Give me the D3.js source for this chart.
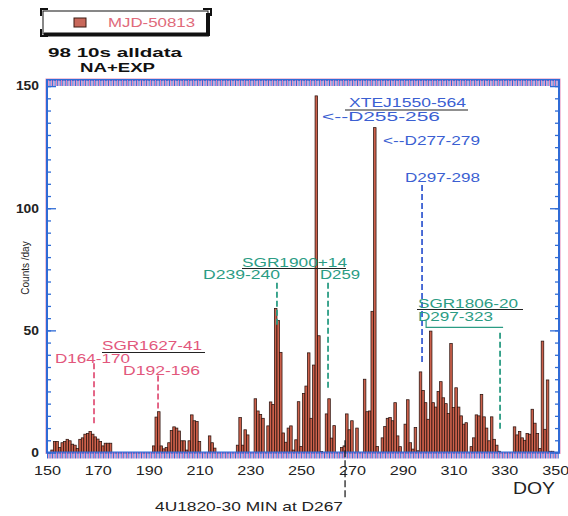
<!DOCTYPE html>
<html>
<head>
<meta charset="utf-8">
<script src="https://cdn.jsdelivr.net/npm/d3@7"></script>
<style>
  body { margin: 0; background: #fff; }
  text { font-family: 'Liberation Sans', Arial, Helvetica, sans-serif; }
</style>
</head>
<body>
<div id="graf"></div>
<script>
// datos: conteos por dia (DOY), solo los dias con barra
const days = [
  152,153,154,155,156,157,158,159,160,161,162,163,164,165,166,167,168,169,170,171,172,173,174,175,
  192,193,194,195,196,197,198,199,200,201,202,203,204,205,206,207,208,209,210,214,215,216,
  225,226,227,228,229,232,233,234,235,237,
  238,239,240,241,242,243,244,245,246,247,
  248,249,250,251,252,253,254,255,256,257,
  258,260,261,262,263,266,267,268,269,270,
  272,275,276,277,278,279,280,282,283,284,
  285,286,287,288,289,291,292,293,294,295,
  296,297,298,299,300,301,302,303,304,305,
  306,307,308,309,310,311,312,313,314,315,
  317,318,319,320,321,322,323,324,325,326,
  327,328,
  334,335,336,337,338,339,340,341,342,343,344,345,346,347,348,349
]
const counts = [
  1,4.5,4.5,2,4,4.5,5.4,4.8,3.4,3,1.6,5.4,6,7.5,7.8,8.6,7.5,6.4,5.5,4.5,2.7,3.8,3.8,3.8,
  2.7,14.5,16.7,2.7,1.5,2,4,9,10.5,10,8.8,4.8,4.8,1,4.8,15.4,13,12.7,4.5,6.8,4,1.8,
  3,14.3,3,9.3,7.2,22,17,15.6,14,10.9,
  20.7,19.7,59,54,41,8,4.2,10,10.9,1,
  5.2,20.8,2.5,24.2,27.2,40.8,14,35.8,146,47.8,
  0.4,15.8,22,5.9,11,2,2.7,15.8,9.3,13,
  10,30,16.7,17,57.8,133,2.5,6,10.6,14,
  14.3,13,20.4,6.8,2.4,11.6,21.6,4,1.4,10.2,
  0.7,33,25.4,20.4,13.6,49.7,20.4,18.6,25,29,
  22.4,20,16,44.6,18.4,26.5,18.6,15,11.6,12.2,
  2.4,6,15.4,15,23.8,14.6,10,4.8,14.6,5.4,
  3,0.5,
  10.5,7.2,8.6,6,5,7.8,7.5,17.7,12,7.8,1.6,45.6,9.5,29.7,0.5,0.5
]
const xTicks = [150,170,190,210,230,250,270,290,310,330,350]
const yTicks = [0,50,100,150]

const ancho_total = 568, alto_total = 516
const blue = '#2f6bd6', pink = '#e2577c', teal = '#2b9c84', azul = '#3b5fd2'

const svg = d3.select('#graf').append('svg')
  .attr('width', ancho_total).attr('height', alto_total)
  .style('background', '#fff')

// escaladores
const x = d3.scaleLinear().domain([150, 351.5]).range([47, 559])
const y = d3.scaleLinear().domain([0, 152.5]).range([452.5, 80])

const datos = days.map((d, i) => ({day: d, n: counts[i]}))

// barras
svg.append('g').selectAll('rect')
  .data(datos)
  .enter().append('rect')
    .attr('x', d => x(d.day - 0.5))
    .attr('width', d => x(d.day + 0.5) - x(d.day - 0.5))
    .attr('y', d => y(d.n))
    .attr('height', d => y(0) - y(d.n))
    .attr('fill', '#cc604b')
    .attr('stroke', '#2a130e')
    .attr('stroke-width', 0.75)

// marco
svg.append('rect')
  .attr('x', x.range()[0] - 1).attr('y', y.range()[1] - 1)
  .attr('width', x.range()[1] - x.range()[0] + 2).attr('height', y.range()[0] - y.range()[1] + 2)
  .attr('fill', 'none').attr('stroke', '#e58ab8').attr('stroke-width', 1)
svg.append('rect')
  .attr('x', x.range()[0]).attr('y', y.range()[1])
  .attr('width', x.range()[1] - x.range()[0]).attr('height', y.range()[0] - y.range()[1])
  .attr('fill', 'none').attr('stroke', blue).attr('stroke-width', 2)

function estilo(sel, color, w) {
  sel.select('.domain').remove()
  sel.selectAll('line').attr('stroke', color).attr('stroke-width', w)
}

// ticks diarios arriba (hacia adentro) y abajo (hacia afuera)
const diarios = d3.range(150, 352)
const medios = d3.range(150.5, 351, 1)
svg.append('g').attr('transform', `translate(0,${y.range()[1]})`)
  .call(d3.axisBottom(x).tickValues(medios).tickSize(6).tickFormat(''))
  .call(s => estilo(s, '#e27ab8', 1))
svg.append('g').attr('transform', `translate(0,${y.range()[1]})`)
  .call(d3.axisBottom(x).tickValues(diarios).tickSize(6).tickFormat(''))
  .call(s => estilo(s, blue, 1))
svg.append('g').attr('transform', `translate(0,${y(0)})`)
  .call(d3.axisBottom(x).tickValues(medios).tickSize(6).tickFormat(''))
  .call(s => estilo(s, '#e27ab8', 1))
svg.append('g').attr('transform', `translate(0,${y(0)})`)
  .call(d3.axisBottom(x).tickValues(diarios).tickSize(6).tickFormat(''))
  .call(s => estilo(s, blue, 1))

// ticks verticales
const menores = d3.range(0, 152, 5)
svg.append('g').attr('transform', `translate(${x.range()[0]},0)`)
  .call(d3.axisRight(y).tickValues(menores).tickSize(4).tickFormat(''))
  .call(s => estilo(s, blue, 1.3))
svg.append('g').attr('transform', `translate(${x.range()[0]},0)`)
  .call(d3.axisRight(y).tickValues(yTicks).tickSize(9).tickFormat(''))
  .call(s => estilo(s, blue, 1.3))
svg.append('g').attr('transform', `translate(${x.range()[1]},0)`)
  .call(d3.axisLeft(y).tickValues(menores).tickSize(4).tickFormat(''))
  .call(s => estilo(s, blue, 1.3))
svg.append('g').attr('transform', `translate(${x.range()[1]},0)`)
  .call(d3.axisLeft(y).tickValues(yTicks).tickSize(9).tickFormat(''))
  .call(s => estilo(s, blue, 1.3))

// etiquetas de ejes
svg.append('g').attr('transform', `translate(0,${y(0)})`)
  .call(d3.axisBottom(x).tickValues(xTicks).tickSize(0).tickPadding(13))
  .call(s => {
    s.select('.domain').remove()
    s.selectAll('text').attr('font-size', 13).attr('fill', '#222')
      .attr('font-family', "'Liberation Sans', Arial, sans-serif")
      .attr('textLength', 27).attr('lengthAdjust', 'spacingAndGlyphs')
  })
svg.append('g').attr('transform', `translate(39,0)`)
  .call(d3.axisLeft(y).tickValues(yTicks).tickSize(0).tickPadding(0))
  .call(s => {
    s.select('.domain').remove()
    s.selectAll('text').attr('font-size', 12).attr('font-weight', 'bold').attr('fill', '#222')
      .attr('font-family', "'Liberation Sans', Arial, sans-serif")
      .attr('textLength', d => String(d).length * 7.7).attr('lengthAdjust', 'spacingAndGlyphs')
  })

svg.append('text')
  .attr('transform', 'translate(29,268) rotate(-90)')
  .attr('text-anchor', 'middle').attr('font-size', 10).attr('fill', '#222')
  .text('Counts /day')

svg.append('text').attr('x', 513).attr('y', 494).attr('font-size', 16).attr('fill', '#222')
  .attr('textLength', 42).attr('lengthAdjust', 'spacingAndGlyphs').text('DOY')

// leyenda
svg.append('rect').attr('x', 43).attr('y', 11).attr('width', 165).attr('height', 23)
  .attr('fill', '#fff').attr('stroke', '#111').attr('stroke-width', 1)
svg.append('path').attr('d', 'M44,34.5 H209 M208,13 V36')
  .attr('stroke', '#111').attr('stroke-width', 4).attr('fill', 'none')
svg.append('path').attr('d', 'M41,16 V9 H48 M41,29 V36 H48 M203,9 H211 V16')
  .attr('stroke', '#111').attr('stroke-width', 2).attr('fill', 'none')
svg.append('rect').attr('x', 74).attr('y', 18).attr('width', 12).attr('height', 9)
  .attr('fill', '#c8685a').attr('stroke', '#3a1a12').attr('stroke-width', 1)
svg.append('text').attr('x', 108).attr('y', 27).attr('font-size', 13).attr('fill', '#e06a7a')
  .attr('textLength', 87).attr('lengthAdjust', 'spacingAndGlyphs').text('MJD-50813')

svg.append('text').attr('x', 48).attr('y', 57).attr('font-size', 13).attr('font-weight', 'bold')
  .attr('fill', '#111').attr('textLength', 134).attr('lengthAdjust', 'spacingAndGlyphs')
  .text('98 10s alldata')
svg.append('text').attr('x', 80).attr('y', 72).attr('font-size', 13).attr('font-weight', 'bold')
  .attr('fill', '#111').attr('textLength', 75).attr('lengthAdjust', 'spacingAndGlyphs')
  .text('NA+EXP')

// anotaciones
function texto(t, px, py, len, color) {
  svg.append('text').attr('x', px).attr('y', py).attr('font-size', 12).attr('fill', color)
    .attr('textLength', len).attr('lengthAdjust', 'spacingAndGlyphs').text(t)
}
function raya(x1, x2, py, color) {
  svg.append('line').attr('x1', x1).attr('x2', x2).attr('y1', py).attr('y2', py)
    .attr('stroke', color).attr('stroke-width', 1.2)
}
function guion(dia, v1, v2, color) {
  svg.append('line').attr('x1', x(dia)).attr('x2', x(dia)).attr('y1', y(v1)).attr('y2', y(v2))
    .attr('stroke', color).attr('stroke-width', 1.8).attr('stroke-dasharray', '6,3')
}

// SGR1627-41
texto('SGR1627-41', 102, 350, 100, pink)
raya(102, 205, 352.5, '#222')
texto('D164-170', 55, 363, 75, pink)
texto('D192-196', 123, 375, 77, pink)
guion(168.5, 36.5, 12, pink)
guion(193.7, 31.5, 17.5, pink)

// SGR1900+14
texto('SGR1900+14', 242, 267, 105, teal)
raya(242, 346, 268.5, '#222')
texto('D239-240', 203, 279, 77, teal)
texto('D259', 320, 279, 40, teal)
guion(240.5, 69.5, 52, teal)
guion(260.6, 69.5, 25.7, teal)

// XTEJ1550-564
texto('XTEJ1550-564', 349, 107, 117, azul)
raya(345, 468, 110, '#222')
texto('<--D255-256', 322, 121, 118, azul)
texto('<--D277-279', 383, 145, 97, azul)
texto('D297-298', 405, 182, 75, azul)
guion(297.6, 109.5, 36.5, azul)

// SGR1806-20
texto('SGR1806-20', 418, 308, 100, teal)
raya(417, 523, 309.5, '#222')
texto('D297-323', 418, 321, 75, teal)
svg.append('path').attr('d', `M${x(299.2)},${y(54)} V${y(51.2)} H${x(329.5)}`)
  .attr('stroke', teal).attr('stroke-width', 1.2).attr('fill', 'none')
guion(328.3, 49, 8.5, teal)

// 4U1820-30
svg.append('line').attr('x1', x(267.3)).attr('x2', x(267.3)).attr('y1', y(5)).attr('y2', 499)
  .attr('stroke', '#111').attr('stroke-width', 1.2).attr('stroke-dasharray', '7,3')
svg.append('text').attr('x', 155).attr('y', 511).attr('font-size', 13).attr('fill', '#222')
  .attr('textLength', 188).attr('lengthAdjust', 'spacingAndGlyphs').text('4U1820-30 MIN at D267')
</script>
</body>
</html>
